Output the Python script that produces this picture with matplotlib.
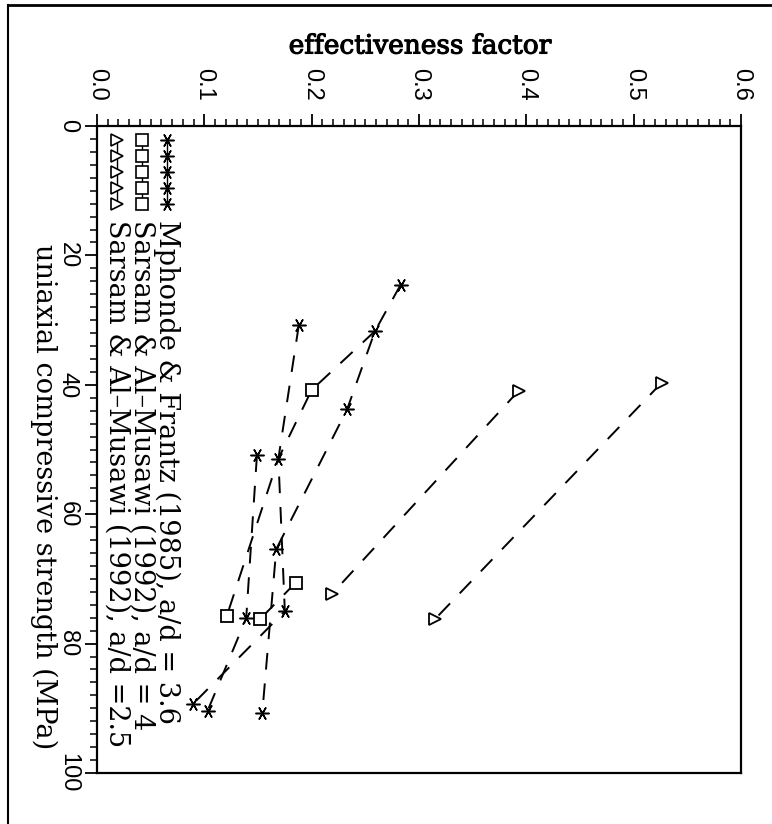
import matplotlib
matplotlib.use('Agg')
import matplotlib.pyplot as plt
import matplotlib.patheffects as pe
from matplotlib.lines import Line2D
from matplotlib.ticker import MultipleLocator

# ---------------- data (strength in MPa, effectiveness factor) ----------------
mf_strength = [24.5, 31.7, 30.8, 43.8, 50.9, 51.4, 65.4, 75.0, 76.1, 89.4, 90.4, 90.7]
mf_eff = [0.283, 0.259, 0.188, 0.233, 0.149, 0.169, 0.167, 0.175, 0.139, 0.089, 0.103, 0.154]
sa4_strength = [40.8, 70.6, 75.7, 76.2]
sa4_eff = [0.200, 0.185, 0.121, 0.152]
sa25_strength = [39.7, 40.9, 72.3, 76.2]
sa25_eff = [0.526, 0.393, 0.219, 0.315]

# dashed connecting lines
line_a_strength = [24.5, 31.7, 43.8, 65.4, 90.7]
line_a_eff = [0.283, 0.259, 0.233, 0.167, 0.154]
line_b_strength = [30.8, 51.4, 75.0, 89.4]
line_b_eff = [0.188, 0.169, 0.175, 0.089]
line_c_strength = [50.9, 76.1, 90.4]
line_c_eff = [0.149, 0.139, 0.103]
line_d_strength = [31.7, 40.8, 51.4, 75.7]
line_d_eff = [0.259, 0.200, 0.169, 0.121]
line_e_strength = [70.6, 76.2]
line_e_eff = [0.185, 0.152]
line_f_strength = [40.9, 72.3]
line_f_eff = [0.393, 0.219]
line_g_strength = [39.7, 76.2]
line_g_eff = [0.526, 0.315]

eff_ticks = [0.0, 0.1, 0.2, 0.3, 0.4, 0.5, 0.6]
eff_labels = ['0.0', '0.1', '0.2', '0.3', '0.4', '0.5', '0.6']
str_ticks = [0, 20, 40, 60, 80, 100]
str_labels = ['0', '20', '40', '60', '80', '100']

legend_labels = ['Mphonde & Frantz (1985), a/d = 3.6',
                 'Sarsam & Al\u2013Musawi (1992), a/d = 4',
                 'Sarsam & Al\u2013Musawi (1992), a/d =2.5']

x_title = 'effectiveness factor'
y_title = 'uniaxial compressive strength (MPa)'

# ---------------- figure ----------------
plt.rcParams['lines.scale_dashes'] = False
W, H = 772, 824
fig = plt.figure(figsize=(W / 100, H / 100), dpi=100)
L, R, T, B = 97, 741, 126, 773
ax = fig.add_axes([L / W, 1 - B / H, (R - L) / W, (B - T) / H])

DASH = (12, 10)
LW = 1.4
star = (6, 2, 30)

for xs, ys in [(line_a_eff, line_a_strength), (line_b_eff, line_b_strength),
               (line_c_eff, line_c_strength), (line_d_eff, line_d_strength),
               (line_e_eff, line_e_strength), (line_f_eff, line_f_strength),
               (line_g_eff, line_g_strength)]:
    ax.plot(xs, ys, color='black', lw=LW, dashes=DASH, zorder=2)

ax.plot(mf_eff, mf_strength, ls='none', marker=star, ms=10, mew=1.1, color='black', zorder=3)
ax.plot(sa4_eff, sa4_strength, ls='none', marker='s', ms=9, mew=1.3, mfc='white', mec='black', zorder=3)
ax.plot(sa25_eff, sa25_strength, ls='none', marker='>', ms=9, mew=1.3, mfc='white', mec='black', zorder=3)

ax.set_xlim(0, 0.6)
ax.set_ylim(100, 0)

for s in ax.spines.values():
    s.set_linewidth(1.6)

ax.xaxis.set_ticks_position('top')
ax.set_xticks(eff_ticks)
ax.set_xticklabels(eff_labels, family='Liberation Sans', fontsize=17)
ax.xaxis.set_minor_locator(MultipleLocator(0.01))
ax.set_yticks(str_ticks)
ax.set_yticklabels(str_labels, family='Liberation Sans', fontsize=17)
ax.yaxis.set_minor_locator(MultipleLocator(2))
ax.tick_params(axis='x', which='major', direction='out', length=9, width=1.3, pad=9)
ax.tick_params(axis='x', which='minor', direction='out', length=5, width=1.1)
ax.tick_params(axis='y', which='major', direction='out', length=9, width=1.3, pad=4)
ax.tick_params(axis='y', which='minor', direction='out', length=5, width=1.1)
for lab in ax.get_xticklabels():
    lab.set_rotation(-90)
    lab.set_va('bottom')
    lab.set_ha('center')
for lab in ax.get_yticklabels():
    lab.set_rotation(-90)
    lab.set_va('center')
    lab.set_ha('right')

# axis titles
fig.text(420 / W, 1 - 46 / H, x_title, family='DejaVu Serif', fontsize=19,
         ha='center', va='center',
         path_effects=[pe.withStroke(linewidth=0.8, foreground='black')])
fig.text(44 / W, 1 - 497 / H, y_title, family='DejaVu Serif', fontsize=19.5,
         rotation=-90, ha='center', va='center')

# legend (rotated)
leg_cols = [167, 142, 117]
leg_markers = [dict(marker=star, ms=10, mew=1.1, color='black'),
               dict(marker='s', ms=8, mew=1.2, mfc='white', mec='black', color='black'),
               dict(marker='>', ms=8, mew=1.2, mfc='white', mec='black', color='black')]
mk_y = [140, 156, 172, 188, 204]
for cx, mk, lab in zip(leg_cols, leg_markers, legend_labels):
    fx = (cx - L) / (R - L)
    ys = [1 - (y - T) / (B - T) for y in mk_y]
    ax.plot([fx] * len(ys), ys, transform=ax.transAxes, lw=1.0, ls='-', clip_on=False, **mk)
    ax.text(fx, 1 - (220 - T) / (B - T), lab, transform=ax.transAxes,
            family='DejaVu Serif', fontsize=19.5, rotation=-90,
            rotation_mode='anchor', ha='left', va='center')

# scanned page border
fig.add_artist(Line2D([8 / W, 1], [1 - 5 / H, 1 - 5 / H], transform=fig.transFigure, color='black', lw=2))
fig.add_artist(Line2D([8 / W, 8 / W], [0, 1 - 5 / H], transform=fig.transFigure, color='black', lw=1.5))

fig.savefig('out.png', dpi=100)
